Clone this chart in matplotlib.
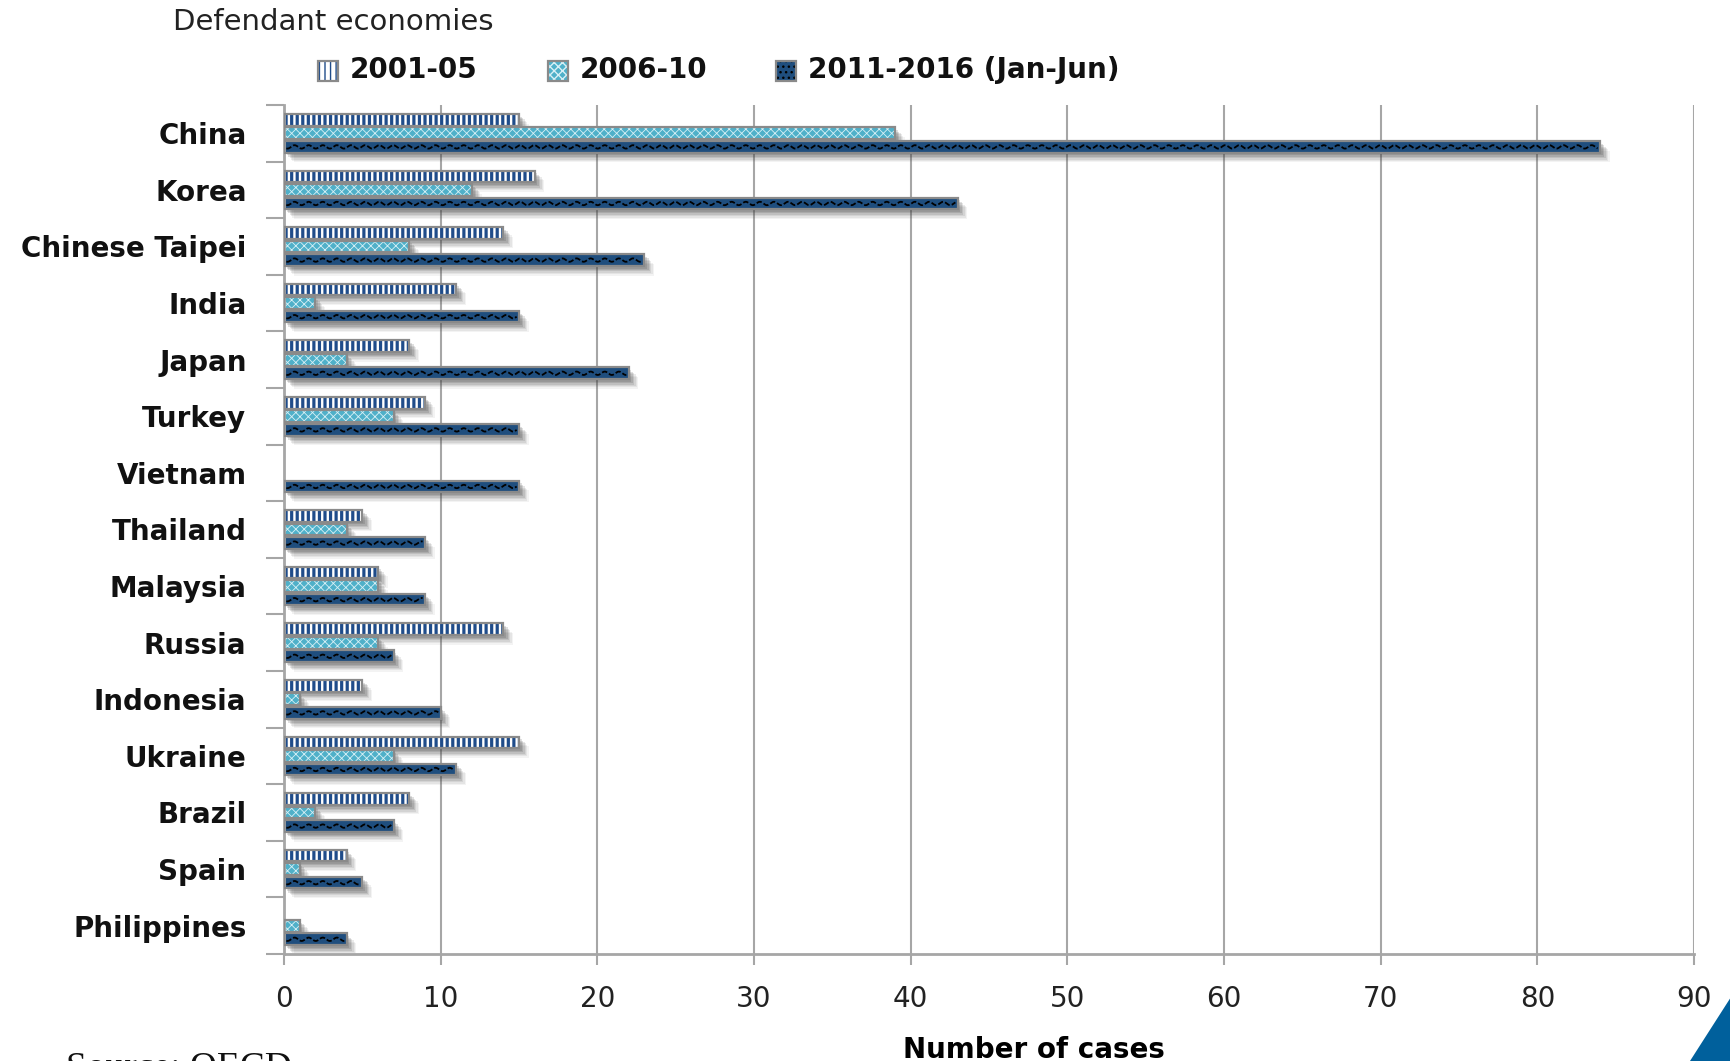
import numpy as np
import matplotlib
matplotlib.use("Agg")
import matplotlib.pyplot as plt
import matplotlib.patheffects as pe
from matplotlib.patches import Rectangle, Polygon

# data
countries = ["China", "Korea", "Chinese Taipei", "India", "Japan", "Turkey", "Vietnam",
             "Thailand", "Malaysia", "Russia", "Indonesia", "Ukraine", "Brazil", "Spain",
             "Philippines"]
p2001_05 = [15, 16, 14, 11, 8, 9, 0, 5, 6, 14, 5, 15, 8, 4, 0]
p2006_10 = [39, 12, 8, 2, 4, 7, 0, 4, 6, 6, 1, 7, 2, 1, 1]
p2011_16 = [84, 43, 23, 15, 22, 15, 15, 9, 9, 7, 10, 11, 7, 5, 4]
series_labels = ["2001-05", "2006-10", "2011-2016 (Jan-Jun)"]
xticks = np.arange(0, 91, 10)

STRIPE = "#1f4c8a"
CYAN = "#4fb0c9"
DARK = "#1f4e7e"
EDGE = "#8a8a8a"
GRID = "#a6a6a6"

fig = plt.figure(figsize=(17.31, 10.61), dpi=100)
ax = fig.add_axes([284/1731, 1-954/1061, (1694-284)/1731, (954-105)/1061])

y = np.arange(len(countries))
h = 0.205
offs = [-0.24, 0.0, 0.24]
# soft drop shadow made of a few offset copies
shadow = [pe.SimplePatchShadow(offset=(o, -o), shadow_rgbFace=(0.25, 0.25, 0.25), alpha=a)
          for o, a in [(7, 0.06), (6, 0.08), (5, 0.1), (4, 0.13), (3, 0.16), (2, 0.16)]]

styles = [dict(color="white", ec=STRIPE, hatch="|||", hlw=2.3),
          dict(color=CYAN, ec="#d8f0f6", hatch="xxxx", hlw=0.6),
          dict(color=DARK, ec=DARK, hatch=None, hlw=1.0)]
data = [p2001_05, p2006_10, p2011_16]

for vals, off, st in zip(data, offs, styles):
    vals = np.array(vals)
    keep = vals > 0
    yy = y[keep] + off
    vv = vals[keep]
    sh = ax.barh(yy, vv, height=h, color="gray", lw=0, zorder=1)
    for b in sh:
        b.set_path_effects(shadow)
    with plt.rc_context({"hatch.linewidth": st["hlw"]}):
        fill = ax.barh(yy, vv, height=h, color=st["color"], edgecolor=st["ec"],
                       hatch=st["hatch"], lw=0, zorder=2)
    for b in fill:
        if hasattr(b, "set_hatch_linewidth"):
            b.set_hatch_linewidth(st["hlw"])
    ax.barh(yy, vv, height=h, facecolor="none", edgecolor=EDGE, lw=1.6, zorder=4)

# wavy line decoration of the third series
for yc, v in zip(y + offs[2], p2011_16):
    if v <= 0:
        continue
    xw = np.linspace(0.15, v - 0.15, int(v * 40) + 2)
    ax.plot(xw, yc + 0.03 * np.sin(2 * np.pi * xw / 0.9), color="black", lw=1.3,
            dashes=(3, 1.2), zorder=3)

ax.set_xlim(0, 90)
ax.set_ylim(len(countries) - 0.5, -0.5)
ax.set_xticks(xticks)
ax.set_xticklabels([str(t) for t in xticks], fontsize=20, color="#222222")
ax.set_yticks(y)
ax.set_yticklabels(countries, fontsize=20, fontweight="bold", color="#111111")
ax.set_yticks(np.arange(len(countries) + 1) - 0.5, minor=True)
ax.tick_params(axis="y", which="major", length=0, pad=27)
ax.tick_params(axis="y", which="minor", length=13, width=1.5, color=GRID)
ax.tick_params(axis="x", length=8, width=1.5, color=GRID, pad=14)
ax.grid(axis="x", color=GRID, lw=1.5, zorder=0)
ax.set_axisbelow(True)
for s in ["top", "right"]:
    ax.spines[s].set_visible(False)
for s in ["left", "bottom"]:
    ax.spines[s].set_color(GRID)
    ax.spines[s].set_linewidth(2)

ax.set_xlabel("Number of cases", fontsize=20, fontweight="bold")
ax.xaxis.set_label_coords(0.532, -0.097)

fig.text(173/1731, 1-22/1061, "Defendant economies", fontsize=21, va="center", ha="left",
         color="#222222")

# legend
leg_x = [318, 548, 776]
leg_fc = ["white", CYAN, DARK]
leg_ec = [STRIPE, "#d8f0f6", "black"]
leg_h = ["|||", "xxxx", "..."]
for lx, lab, fc, ec, hh in zip(leg_x, series_labels, leg_fc, leg_ec, leg_h):
    r = Rectangle((lx/1731, 1-81/1061), 20/1731, 20/1061, transform=fig.transFigure,
                  facecolor=fc, edgecolor=ec, hatch=hh, lw=0)
    fig.add_artist(r)
    fig.add_artist(Rectangle((lx/1731, 1-81/1061), 20/1731, 20/1061, transform=fig.transFigure,
                             facecolor="none", edgecolor=EDGE, lw=1.6))
    fig.text((lx + 32)/1731, 1-70/1061, lab, fontsize=20, fontweight="bold",
             va="center", ha="left", color="#111111")

fig.text(66/1731, 1-1052/1061, "Source: OECD", fontsize=27, family="Liberation Serif",
         va="top", ha="left", color="#111111")

fig.add_artist(Polygon([(1690/1731, 0), (1, 0), (1, 1-997/1061)], closed=True,
                       transform=fig.transFigure, facecolor="#00609c", edgecolor="none"))

fig.savefig("out.png", dpi=100)
